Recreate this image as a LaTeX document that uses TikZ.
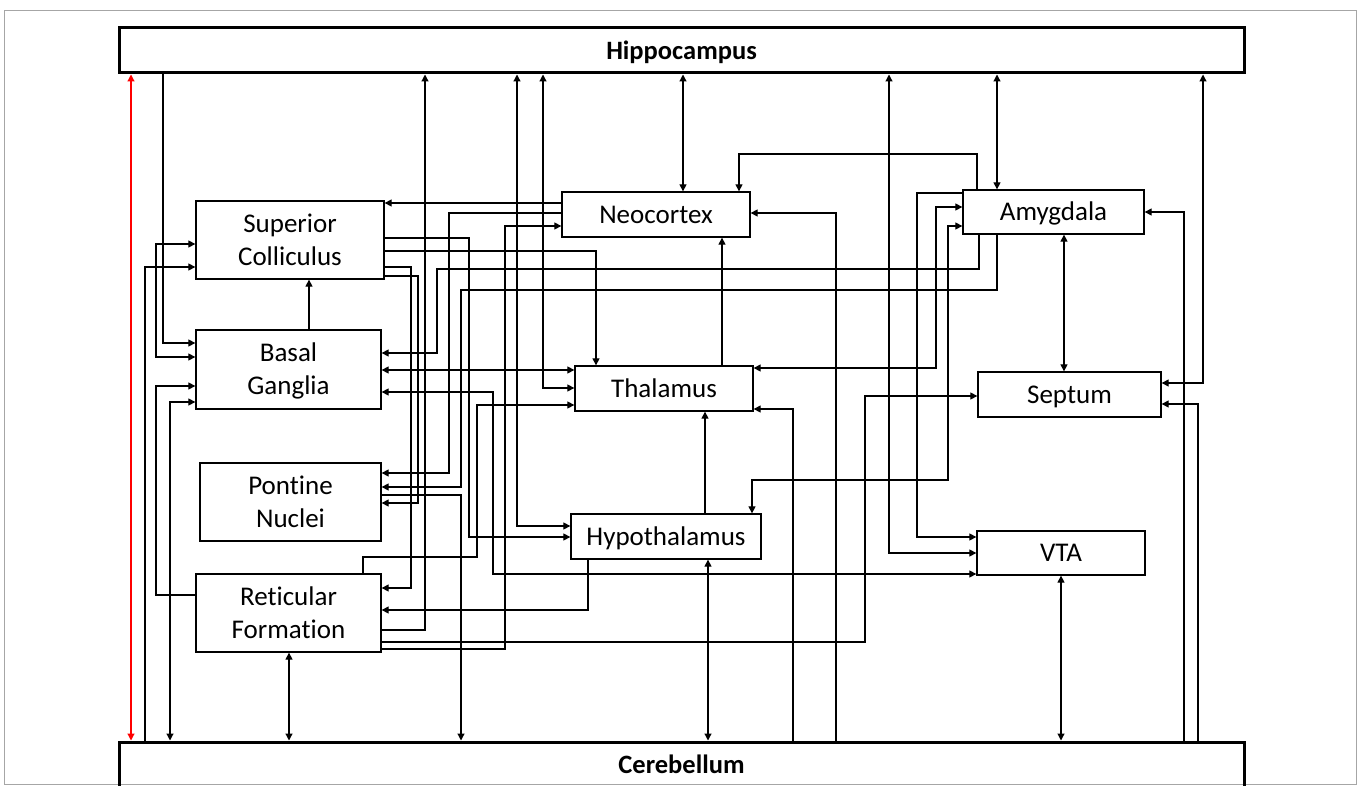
\documentclass[tikz,border=0pt]{standalone}
\usepackage{fontspec}
\setmainfont{Carlito}[Ligatures=NoCommon]
\usetikzlibrary{arrows.meta}
\newcommand\st{\rule[-6.6pt]{0pt}{30.6pt}}
\begin{document}
\begin{tikzpicture}[x=1pt,y=-1pt,
  box/.style={draw, line width=1.3pt, inner sep=0pt, align=center, font=\fontsize{27}{33}\selectfont},
  big/.style={draw, line width=3pt, inner sep=0pt, font=\fontsize{26.5}{30}\selectfont\bfseries},
  ln/.style={line width=1.2pt},
  arr/.style={ln, -{Triangle[length=7pt,width=7pt]}},
  darr/.style={ln, {Triangle[length=7pt,width=7pt]}-{Triangle[length=7pt,width=7pt]}}]
\useasboundingbox (0,0) rectangle (1360,786);
\draw[gray!70, line width=0.8pt] (4,10) rectangle (1356,784);
% nodes
\node[big, minimum width=1125pt, minimum height=45pt] (hip) at (681.5,50.5) {\st Hippocampus};
\node[big, minimum width=1125pt, minimum height=46pt] (cer) at (681.5,765) {\st Cerebellum};
\node[box, minimum width=188pt, minimum height=78pt] (sc) at (290,240) {\st Superior\\\st Colliculus};
\node[box, minimum width=185pt, minimum height=79pt] (bg) at (288.5,369.5) {\st Basal\\\st Ganglia};
\node[box, minimum width=181pt, minimum height=78pt] (pn) at (290.5,502) {\st Pontine\\\st Nuclei};
\node[box, minimum width=185pt, minimum height=78pt] (rf) at (288.5,613) {\st Reticular\\\st Formation};
\node[box, minimum width=188pt, minimum height=45pt] (nc) at (656,214.5) {\st Neocortex};
\node[box, minimum width=178pt, minimum height=45pt] (th) at (664,388.5) {\st Thalamus};
\node[box, minimum width=190pt, minimum height=45pt] (hy) at (666,536.5) {\st Hypothalamus};
\node[box, minimum width=181pt, minimum height=44pt] (am) at (1053.5,212) {\st Amygdala};
\node[box, minimum width=183pt, minimum height=45pt] (se) at (1069.5,394.5) {\st Septum};
\node[box, minimum width=168pt, minimum height=44pt] (vta) at (1061,553) {\st VTA};
% left side connectors
\draw[darr, red] (hip.south -| 131,0) -- (cer.north -| 131,0);
\draw[arr] (hip.south -| 163,0) -- (163,343) -- (bg.west |- 0,343);
\draw[darr] (sc.west |- 0,244) -- (156,244) -- (156,357) -- (bg.west |- 0,357);
\draw[arr] (cer.north -| 145,0) -- (145,267) -- (sc.west |- 0,267);
\draw[arr] (rf.west |- 0,595) -- (156,595) -- (156,386) -- (bg.west |- 0,386);
\draw[darr] (bg.west |- 0,402) -- (170,402) -- (cer.north -| 170,0);
\draw[arr] (bg.north -| 309,0) -- (sc.south -| 309,0);
\draw[darr] (rf.south -| 289,0) -- (cer.north -| 289,0);
% middle connectors
\draw[arr] (nc.west |- 0,203) -- (sc.east |- 0,203);
\draw[arr] (nc.west |- 0,213) -- (449,213) -- (449,473) -- (pn.east |- 0,473);
\draw[arr] (rf.east |- 0,649) -- (505,649) -- (505,226) -- (nc.west |- 0,226);
\draw[arr] (sc.east |- 0,238) -- (469,238) -- (469,537) -- (hy.west |- 0,537);
\draw[arr] (sc.east |- 0,251) -- (596,251) -- (th.north -| 596,0);
\draw[arr] (sc.east |- 0,267) -- (411,267) -- (411,588) -- (rf.east |- 0,588);
\draw[arr] (sc.east |- 0,276) -- (418,276) -- (418,503) -- (pn.east |- 0,503);
\draw[arr] (am.south -| 979,0) -- (979,269) -- (437,269) -- (437,353) -- (bg.east |- 0,353);
\draw[arr] (am.south -| 997,0) -- (997,290) -- (461,290) -- (461,487) -- (pn.east |- 0,487);
\draw[arr] (rf.east |- 0,630) -- (425,630) -- (hip.south -| 425,0);
\draw[darr] (hip.south -| 517,0) -- (517,526) -- (hy.west |- 0,526);
\draw[darr] (hip.south -| 543,0) -- (543,388) -- (th.west |- 0,388);
\draw[darr] (bg.east |- 0,370) -- (th.west |- 0,370);
\draw[darr] (bg.east |- 0,392) -- (493,392) -- (493,574) -- (vta.west |- 0,574);
\draw[arr] (rf.north -| 363,0) -- (363,557) -- (477,557) -- (477,405) -- (th.west |- 0,405);
\draw[arr] (hy.south -| 588,0) -- (588,610) -- (rf.east |- 0,610);
\draw[arr] (rf.east |- 0,642) -- (865,642) -- (865,396) -- (se.west |- 0,396);
\draw[arr] (pn.east |- 0,495) -- (461,495) -- (cer.north -| 461,0);
% right side connectors
\draw[darr] (hip.south -| 683,0) -- (nc.north -| 683,0);
\draw[darr] (hip.south -| 889,0) -- (889,553) -- (vta.west |- 0,553);
\draw[arr] (am.north -| 977,0) -- (977,154) -- (739,154) -- (nc.north -| 739,0);
\draw[darr] (hip.south -| 997,0) -- (am.north -| 997,0);
\draw[darr] (hip.south -| 1203,0) -- (1203,383) -- (se.east |- 0,383);
\draw[arr] (cer.north -| 1184,0) -- (1184,212) -- (am.east |- 0,212);
\draw[arr] (cer.north -| 1198,0) -- (1198,404) -- (se.east |- 0,404);
\draw[darr] (am.south -| 1064,0) -- (se.north -| 1064,0);
\draw[darr] (vta.south -| 1061,0) -- (cer.north -| 1061,0);
\draw[darr] (hy.south -| 708,0) -- (cer.north -| 708,0);
\draw[arr] (hy.north -| 705,0) -- (th.south -| 705,0);
\draw[arr] (th.north -| 722,0) -- (nc.south -| 722,0);
\draw[darr] (am.west |- 0,207) -- (936,207) -- (936,368) -- (th.east |- 0,368);
\draw[arr] (cer.north -| 793,0) -- (793,409) -- (th.east |- 0,409);
\draw[arr] (cer.north -| 836,0) -- (836,213) -- (nc.east |- 0,213);
\draw[arr] (am.west |- 0,193) -- (917,193) -- (917,537) -- (vta.west |- 0,537);
\draw[darr] (am.west |- 0,226) -- (948,226) -- (948,480) -- (752,480) -- (hy.north -| 752,0);
\end{tikzpicture}
\end{document}
